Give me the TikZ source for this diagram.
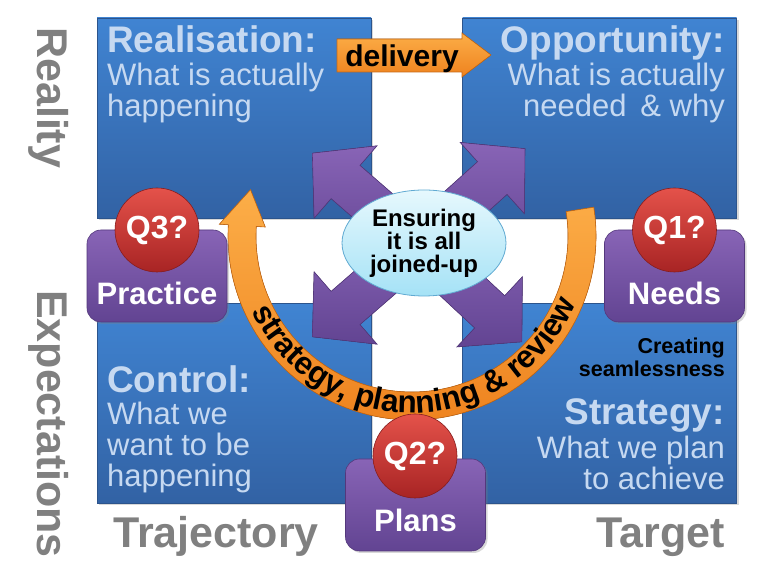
\documentclass[tikz,border=0pt]{standalone}
\usepackage{fontspec}
\setmainfont{Liberation Sans}
\usetikzlibrary{shapes,shadows,decorations.text,positioning}
\definecolor{boxblue}{RGB}{64,132,210}
\definecolor{boxblueD}{RGB}{50,98,164}
\definecolor{boxline}{RGB}{44,84,140}
\definecolor{paletext}{RGB}{198,217,241}
\definecolor{labgray}{RGB}{128,128,128}
\definecolor{purpL}{RGB}{136,100,182}
\definecolor{purpD}{RGB}{98,68,146}
\definecolor{purpline}{RGB}{84,56,124}
\definecolor{qredL}{RGB}{228,82,74}
\definecolor{qredD}{RGB}{168,36,36}
\definecolor{orngL}{RGB}{252,174,72}
\definecolor{orngD}{RGB}{238,130,30}
\definecolor{orngline}{RGB}{198,104,20}
\definecolor{cyanL}{RGB}{230,248,253}
\definecolor{cyanD}{RGB}{165,226,246}
\definecolor{cyanline}{RGB}{96,170,210}
\newcommand{\arcfont}{\fontsize{31.5}{31.5}\selectfont\bfseries}

\begin{document}
\begin{tikzpicture}[x=1pt, y=1pt,
	quad/.style={rectangle, minimum width=274pt, minimum height=200pt, top color=boxblue, bottom color=boxblueD, draw=boxline, line width=0.6pt, drop shadow={opacity=0.3, shadow xshift=2pt, shadow yshift=-2pt}},
	quadtitle/.style={inner sep=0, text=paletext, font=\fontsize{37}{37}\selectfont\bfseries},
	quadbody/.style={inner sep=0, text=paletext, font=\fontsize{31}{31}\selectfont},
	sidelab/.style={inner sep=0, text=labgray, font=\fontsize{43}{43}\selectfont\bfseries},
	qbox/.style={rectangle, rounded corners=14pt, minimum width=140pt, minimum height=92pt, top color=purpL, bottom color=purpD, draw=purpline, line width=0.6pt, drop shadow={opacity=0.3, shadow xshift=2pt, shadow yshift=-2pt}},
	qlabel/.style={inner sep=0, text=white, font=\fontsize{31}{31}\selectfont\bfseries},
	qball/.style={circle, minimum size=84pt, inner sep=0, top color=qredL, bottom color=qredD, draw=qredD!80!black, line width=0.6pt, text=white, font=\fontsize{32}{32}\selectfont\bfseries},
	jarrow/.style={top color=purpL, bottom color=purpD, draw=purpline, line width=0.6pt},
	cyclearrow/.style={top color=orngL, bottom color=orngD, draw=orngline, line width=0.6pt},
	hubellipse/.style={ellipse, minimum width=164pt, minimum height=106pt, inner sep=0, top color=cyanL, bottom color=cyanD, draw=cyanline, line width=0.8pt, align=center, font=\fontsize{24}{23}\selectfont\bfseries}]
	\fill[white] (0,0) rectangle (764,588);
	\path[use as bounding box] (0,0) rectangle (764,588);

	\node[sidelab, rotate=-90, anchor=base west] (reality) at (37,561) {Reality};
	\node[sidelab, rotate=-90, anchor=base west] (expect) at (37,298) {Expectations};
	\node[sidelab, anchor=base west] (traj) at (113,40) {Trajectory};
	\node[sidelab, anchor=base east] (targ) at (725,40) {Target};

	\node[quad] (real) at (234,470) {};
	\node[quad] (oppo) at (599.5,470) {};
	\node[quad] (ctrl) at (234,184.5) {};
	\node[quad] (strat) at (599.5,184.5) {};

	% multi-line nodes sit on their last baseline
	\node[quadtitle, anchor=base west] (realt) at (107,535) {Realisation:};
	\node[quadbody, anchor=base west, align=left] (realb) at (107,471) {What is actually\\happening};
	\node[quadtitle, anchor=base east] (oppot) at (725,535) {Opportunity:};
	\node[quadbody, anchor=base east, align=right] (oppob) at (725,471) {What is actually\\needed\, \& why};
	\node[quadtitle, anchor=base west] (ctrlt) at (107,195) {Control:};
	\node[quadbody, anchor=base west, align=left] (ctrlb) at (107,101) {What we\\want to be\\happening};
	\node[inner sep=0, anchor=base east, align=right, font=\fontsize{21.5}{23}\selectfont\bfseries] (seam) at (725,211) {Creating\\seamlessness};
	\node[quadtitle, anchor=base east] (stratt) at (725,163) {Strategy:};
	\node[quadbody, anchor=base east, align=right] (stratb) at (725,98) {What we plan\\to achieve};

	\fill[cyclearrow] (337,549) -- (462,549) -- (462,555) -- (491,533) -- (462,511) -- (462,516) -- (337,516) -- cycle;
	\node[inner sep=0, anchor=base, font=\fontsize{30}{30}\selectfont\bfseries] (deliv) at (402,521) {delivery};

	\coordinate (hub) at (418,343);
	\foreach \ang/\len in {139/140, 42/144, 221/140, -43/142}{
		\begin{scope}[shift={(hub)}, rotate=\ang]
			\filldraw[jarrow] (0,-22) -- (\len-44,-22) -- (\len-44,-48) -- (\len,0) -- (\len-44,48) -- (\len-44,22) -- (0,22) -- cycle;
		\end{scope}
	}

	\coordinate (loop) at (412,352);
	\begin{scope}[shift={(loop)}]
		\filldraw[cyclearrow] (9:184) arc[start angle=9, end angle=-183.5, radius=184]
			-- (-183.5:193) -- (-196:168) -- (-183.5:147) -- (-183.5:156)
			arc[start angle=-183.5, end angle=9, radius=156] -- cycle;
		\path[decorate, decoration={text along path, text align=center, text={|\arcfont|strategy, planning {\&} review}}]
			(-157:177) arc[start angle=-157, end angle=-20, radius=177];
	\end{scope}

	\node[hubellipse] (joined) at (424,345) {Ensuring\\it is all\\joined-up};

	\node[qbox] (practice) at (157,312) {};
	\node[qbox] (needs) at (674.5,312) {};
	\node[qbox] (plans) at (415.5,83) {};
	\node[qlabel, anchor=base] (practicet) at (157,283) {Practice};
	\node[qlabel, anchor=base] (needst) at (674.5,283) {Needs};
	\node[qlabel, anchor=base] (planst) at (415.5,56) {Plans};
	\node[qball] (q3) at (157,358) {Q3?};
	\node[qball] (q1) at (674.5,358) {Q1?};
	\node[qball] (q2) at (415,132) {Q2?};
\end{tikzpicture}
\end{document}
